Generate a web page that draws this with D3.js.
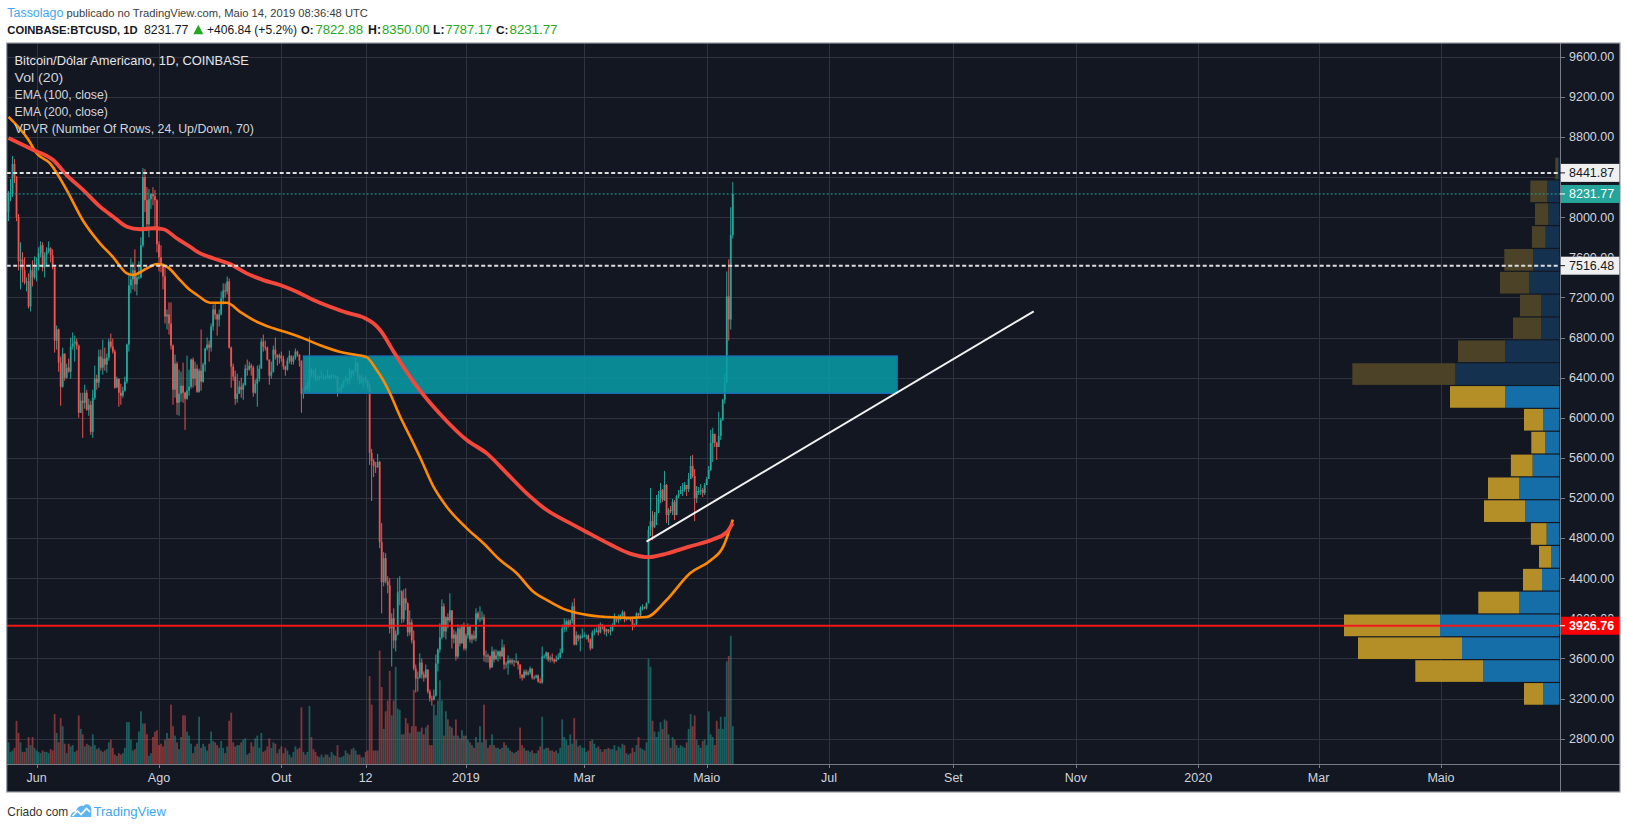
<!DOCTYPE html>
<html><head><meta charset="utf-8">
<script src="https://cdn.jsdelivr.net/npm/d3@7"></script>
<style>html,body{margin:0;padding:0;background:#fff;overflow:hidden}text{font-family:"Liberation Sans",Arial,sans-serif}</style>
</head><body><svg id="c" width="1627" height="829"></svg>
<script>
// ---------- DATA ----------
const startDate = "2018-05-18";          // first daily candle
const firstOpen = 8050;
const closes = [
8240,8240,8530,8400,8000,7560,7580,7470,7350,7360,7110,7470,7400,7500,
7520,7640,7720,7500,7620,7660,7690,7620,7500,6770,6880,6550,6310,6640,6400,6500,6460,6710,6740,6760,6720,6050,6170,6150,6250,6080,6130,5860,6200,6390,
6350,6610,6500,6590,6530,6600,6760,6710,6660,6300,6390,6250,6220,6270,6360,6730,7320,7380,7470,7330,7400,7400,7720,8400,8170,7930,8180,8230,8210,8170,7730,
7600,7530,7410,7010,7030,6940,6720,6280,6540,6150,6240,6320,6250,6190,6270,6310,6580,6390,6490,6260,6470,6360,6530,6690,6730,6700,6910,7080,7030,6980,7030,
7190,7270,7260,7360,6700,6510,6410,6190,6240,6310,6280,6330,6490,6480,6520,6500,6250,6340,6390,6490,6760,6710,6700,6580,6420,6460,6680,6630,6600,6620,
6590,6510,6480,6570,6620,6560,6600,6660,6630,6570,6240,6300,6290,6310,6480,6460,6440,6400,6390,6410,6410,6410,6400,6420,6400,6410,6420,6410,6270,6280,6320,
6370,6390,6370,6470,6440,6470,6550,6420,6350,6390,6390,6370,6320,5650,5570,5520,5510,5560,4760,4360,4600,4370,4330,3900,4000,3780,3840,4260,4270,3990,
4200,4150,3860,3960,3780,3500,3400,3410,3560,3440,3410,3490,3270,3200,3190,3230,3550,3690,3810,4120,3870,4010,3980,4080,3800,3840,3620,3900,3750,3930,3700,
3830,3920,3790,3830,3800,4050,4000,4000,4010,3630,3630,3620,3510,3670,3590,3630,3670,3620,3710,3540,3550,3580,3560,3580,3570,3570,3540,3440,3410,3470,3440,
3460,3500,3410,3410,3430,3370,3360,3620,3620,3660,3590,3610,3590,3570,3590,3610,3660,3900,3910,3970,3930,3980,4120,3740,3830,3800,3820,3820,
3830,3830,3790,3700,3860,3870,3880,3860,3940,3920,3870,3890,3870,3880,3920,4000,3980,3990,4030,4060,3990,3990,4000,3990,3920,3930,4050,4030,4100,4110,4100,
4150,4880,4970,4910,5030,5060,5200,5280,5180,5330,5030,5080,5070,5160,5030,5220,5240,5280,5280,5330,5290,5390,5520,5420,5200,5270,5270,5280,5250,5330,
5390,5480,5750,5840,5750,5710,5820,5980,6180,6350,7210,6980,7822.88,8231.77];
const highs = [
8260,8380,8610,8580,8410,8030,7750,7650,7600,7400,7440,7530,7570,7610,
7600,7700,7760,7750,7650,7700,7760,7700,7680,7510,6920,6890,6610,6700,6640,6540,6590,6800,6850,6820,6790,6730,6250,6250,6330,6280,6190,6170,6280,6520,
6430,6680,6680,6780,6700,6640,6790,6840,6790,6680,6410,6390,6340,6310,6410,6740,7440,7590,7550,7680,7440,7560,7800,8490,8480,8300,8280,8240,8300,8270,8180,
7760,7720,7540,7500,7080,7150,7150,6730,6630,6560,6480,6460,6550,6260,6620,6480,6590,6600,6560,6530,6490,6880,6550,6700,6800,6770,6940,7130,7140,7040,7080,
7260,7340,7340,7410,7390,6710,6540,6470,6440,6370,6400,6350,6530,6580,6560,6540,6520,6380,6520,6530,6790,6830,6770,6710,6580,6560,6720,6800,6630,6640,
6660,6620,6520,6600,6670,6620,6620,6690,6670,6630,6570,6320,6330,6360,6810,6500,6480,6500,6420,6420,6470,6430,6420,6480,6430,6430,6440,6420,6420,6300,6340,
6380,6420,6400,6500,6470,6480,6600,6550,6430,6430,6410,6420,6380,6340,5690,5590,5560,5640,5570,4950,4660,4650,4420,4400,4050,4100,3880,4400,4420,4280,
4290,4300,4160,4080,3990,3880,3540,3470,3650,3600,3470,3540,3490,3290,3230,3290,3640,3700,3950,4190,4150,4020,4050,4250,4080,3890,3870,3940,3930,3940,3960,
3850,3950,3920,3850,3880,4100,4070,4120,4070,4040,3680,3650,3630,3720,3690,3690,3680,3680,3790,3740,3570,3630,3600,3600,3580,3650,3580,3540,3440,3490,3490,
3480,3520,3500,3430,3440,3440,3400,3720,3640,3670,3660,3630,3650,3600,3630,3650,3700,3940,4000,3990,3990,3990,4160,4200,3870,3840,3840,3900,
3860,3840,3840,3800,3880,3900,3910,3940,3960,3940,3920,3900,3890,3920,3950,4050,4010,4040,4040,4080,4070,4010,4010,4000,4000,3950,4060,4050,4120,4140,4120,
4160,4920,5300,5070,5060,5230,5270,5350,5290,5470,5340,5100,5120,5190,5180,5230,5280,5320,5350,5360,5330,5450,5620,5630,5490,5320,5310,5340,5300,5350,
5410,5520,5880,5900,5840,5760,6060,6000,6190,6440,7460,7580,8100,8350];
const lows = [
7960,8160,8200,8340,7960,7470,7280,7350,7330,7260,7090,7060,7310,7380,
7360,7470,7600,7460,7400,7510,7640,7550,7480,6650,6680,6460,6120,6300,6370,6390,6450,6390,6680,6560,6680,6000,6050,5800,6090,6070,6020,5830,5800,6180,
6280,6300,6470,6430,6470,6450,6570,6690,6640,6290,6300,6110,6130,6200,6260,6340,6660,7240,7280,7260,7220,7380,7390,7700,8050,7860,7800,8080,8120,7870,7650,
7460,7450,7280,6940,6880,6830,6680,6130,6200,6030,6020,6160,6150,5880,6180,6220,6290,6300,6320,6250,6250,6270,6350,6460,6670,6560,6660,6870,6980,6820,6910,
7020,7130,7200,7230,6690,6300,6370,6130,6150,6240,6200,6180,6320,6420,6470,6420,6210,6240,6110,6360,6490,6660,6670,6570,6330,6390,6450,6580,6520,6540,
6560,6480,6420,6470,6540,6530,6530,6580,6610,6510,6050,6190,6270,6280,6260,6410,6400,6360,6370,6370,6400,6380,6380,6400,6380,6390,6400,6390,6210,6250,6240,
6300,6350,6330,6340,6390,6410,6460,6380,6330,6340,6300,6350,6290,5530,5170,5410,5450,5500,4700,4050,4320,4350,4250,3850,3520,3700,3670,3830,4130,3950,
3960,4080,3820,3830,3750,3480,3260,3270,3400,3400,3370,3400,3250,3170,3130,3180,3220,3470,3660,3790,3810,3790,3900,3960,3700,3750,3580,3600,3720,3750,3680,
3680,3800,3760,3750,3780,3770,3980,3960,3980,3570,3560,3560,3490,3510,3560,3590,3570,3590,3620,3490,3500,3440,3540,3540,3520,3560,3490,3400,3380,3400,3430,
3430,3440,3390,3390,3400,3360,3350,3350,3600,3590,3570,3560,3570,3550,3570,3590,3600,3650,3860,3870,3910,3920,3950,3730,3730,3770,3670,3800,
3810,3790,3760,3680,3700,3830,3860,3830,3850,3890,3840,3820,3850,3830,3870,3920,3960,3950,3980,4010,3960,3980,3990,3970,3880,3910,3930,4010,4020,4080,4090,
4090,4150,4820,4780,4900,4930,5050,5150,5160,5170,4950,4930,5050,5030,4980,5030,5200,5240,5220,5260,5220,5260,5390,5400,4970,5150,5230,5230,5210,5230,
5330,5390,5470,5560,5710,5580,5710,5780,5970,6140,6350,6770,6880,7787.17];
// daily volume, thousand BTC
const volumes = [
8,4.5,5,6,16,11.5,8,4.5,4.5,6,10,7,10,6,
5,4.5,4,5,4.5,4.5,4,5.5,5,18.5,11.5,8,17,14,7.5,4,7.5,6.5,7,4.5,5,18,13,11,6.5,7.5,7,6.5,11,7,
5.5,6,5,4.5,5,5.5,8,9,6,3.5,3,4,3.5,4,6,15.5,15.5,9,5,5.5,8,12,19.5,15,15,11,3,4,10,12,12.5,
7,7.5,6.5,9,11.5,9.5,22,14,10.5,8,5.5,10,18,18,12,10.5,7.5,4,6.5,7.5,17.5,6,7.5,6.5,5,7.5,12,8.5,8,7,6,
8.5,6,4,6.5,16,19,8,6.5,7,7,8,9,9.5,3.5,4,8,6.5,9.5,10.5,6,11.5,4.5,5,6.5,9.5,6,8,7.5,4,5.5,
6.5,4,6,5,3.5,2.5,4.5,6.5,5.5,6,21,4.5,3.5,4.5,21.5,10,5.5,4.5,3,2.5,3.5,2.5,3.5,3.5,2.5,4.5,3.5,3,7,2.5,2.5,
3,5,4,3.5,5.5,6,5,3.5,3.5,2.5,2.5,4.5,5,32.5,22,5,5,5,42,28.5,13,19.5,23.5,34.5,18,23.5,36,20.5,20,11,
11,17,15,11.5,14,27.5,14,12,12,13.5,11,13.5,14.5,7,7,22,18,23.5,31,23.5,10.5,19.5,16.5,14,13.5,10.5,16.5,10.5,9.5,12.5,10.5,
10.5,9,8,7,6,10,8,14,8,22,9,6,7,11,7,6,6,5.5,6,8,7,6,5,4.5,4,4.5,5,13.5,7,6,5,
5,4.5,5,4,4,5,6.5,17.5,5.5,6,6,5,5,4.5,5,4,6,16.5,10,9,7,11,7.5,17,9,6.5,7,6,
6,4.5,5,8.5,9,7.5,6,6.5,5.5,4.5,5.5,5.5,6,5.5,5.5,7,5,6.5,6,7.5,7,4,3.5,4,6,4.5,7,10,6,5.5,5,
8,39,36,16,12,10,12,15.5,13,16.5,16,11,6,10,9,7,6,7,6.5,6,8,13,18.5,14,18,9,7,6,8.5,9,
7,19.5,11,10,7,16,13,17.5,13,17.5,38,40,47.5,14];
// EMA lines: [candle index from startDate, value]
const ema100Pts = [[0,9000],[10,8770],[14,8637],[20.7,8537],[29,8270],[37,7970],[45.6,7740],[52,7605],[59,7440],[62,7424],[69,7490],[74,7533],[79,7506],[85.5,7373],[90.5,7273],[94,7224],[100.5,7147],[108.8,7147],[115.4,7057],[123.7,6958],[132,6892],[140,6842],[147,6792],[155,6726],[165,6659],[173.6,6626],[178.6,6603],[183.5,6476],[185.2,6426],[190,6250],[195,6020],[201,5778],[205,5612],[211.8,5313],[218.4,5113],[228.4,4898],[236.7,4749],[245,4582],[253.3,4450],[261.6,4266],[268.3,4183],[276.6,4095],[286.5,4041],[298,4013],[309.8,4005],[318,4013],[328,4183],[339.7,4450],[349.7,4575],[356.3,4718],[361,4985]];
const ema200Pts = [[0,8790],[12.4,8670],[22.3,8570],[29,8420],[37.3,8270],[45.6,8105],[52.2,8005],[59,7905],[65.5,7880],[72.2,7890],[77.2,7880],[83.8,7790],[90.5,7705],[94,7656],[102,7590],[110.4,7533],[118.7,7440],[127,7373],[135.3,7324],[143.7,7257],[152,7174],[160.3,7107],[168.6,7048],[176.9,7001],[181.9,6942],[185.2,6875],[192.3,6648],[202.6,6338],[218,5976],[228.4,5778],[238.4,5645],[248.4,5446],[258.3,5247],[268.3,5080],[279.9,4949],[289.9,4842],[300,4736],[309.8,4646],[319,4611],[328,4646],[339.7,4718],[351.3,4789],[358,4860],[361,4950]];
// Volume profile (VPVR), 24 rows, bottom -> top
const vpLow = 3133, vpHigh = 8600, vpValueAreaRows = 14;
const vpDown = [19,67.7,104,96,40.7,19,12,15.7,41,31.3,21.7,13.7,19,55,102.7,47,28,21,29,28.7,13.7,13.3,16.7,2.7];
const vpUp   = [16.3,76.3,97.3,119.3,40.3,17.3,8.3,12.7,34.3,40,26.7,14.3,16.3,54.3,104.3,54.3,18.3,18.3,30.3,26.3,13.7,11,12.3,1.3];
// drawings
const zoneStart = "2018-10-12", zoneEnd = "2019-08-04", zoneTop = 6616, zoneBottom = 6244;
const trendPts = [["2019-04-01",4766],["2019-10-11",7062]];
const dashedLevels = [8441.87, 7516.48];
const lastPrice = 8231.77;
const supportLevel = 3926.76;
// axes
const priceTicks = [2800,3200,3600,4000,4400,4800,5200,5600,6000,6400,6800,7200,7600,8000,8400,8800,9200,9600];
const timeTickDates = ["2018-06-01","2018-08-01","2018-10-01","2018-11-12","2019-01-01","2019-03-01","2019-05-01","2019-07-01","2019-09-01","2019-11-01","2020-01-01","2020-03-01","2020-05-01"];
const timeTickLabels = ["Jun","Ago","Out","12","2019","Mar","Maio","Jul","Set","Nov","2020","Mar","Maio"];
const legendLines = ["Bitcoin/Dólar Americano, 1D, COINBASE","Vol (20)","EMA (100, close)","EMA (200, close)","VPVR (Number Of Rows, 24, Up/Down, 70)"];
// header line 2 segments: text, style
const headerSegments = [["COINBASE:BTCUSD, 1D","b"],["8231.77","n"],["▲","g"],["+406.84 (+5.2%)","n"],["O:","b"],["7822.88","g"],["H:","b"],["8350.00","g"],["L:","b"],["7787.17","g"],["C:","b"],["8231.77","g"]];

// ---------- CHART ----------
const W = 1627, H = 829;
const P = {l: 6.7, t: 43, r: 1560, b: 764};
const F = {l: 6.7, t: 43, r: 1620, b: 792};
const BG = "#131722", GRID = "#2f333e", AX = "#787b86", TXT = "#d1d4dc";
const UP = "#26a69a", DN = "#ef5350";
const DAY = 864e5;
const parse = s => { const [y,m,d] = s.split("-").map(Number); return new Date(Date.UTC(y, m-1, d)); };
const t0 = parse(startDate);
const idxDate = i => new Date(t0.getTime() + i*DAY);

const x = d3.scaleUtc().domain([t0, parse("2020-05-01")]).range([8.5, 1441]);
const y = d3.scaleLinear().domain([2548, 9737]).range([P.b, P.t]);
const yVol = d3.scaleLinear().domain([0, 50]).range([P.b, P.b - 135]);

const candles = closes.map((c, i) => ({
  date: idxDate(i), o: i === 0 ? firstOpen : closes[i-1], c, h: highs[i], l: lows[i], v: volumes[i]
}));

const svg = d3.select("#c");
svg.append("rect").attr("width", W).attr("height", H).attr("fill", "#fff");
svg.append("rect").attr("x", F.l).attr("y", F.t).attr("width", F.r - F.l).attr("height", F.b - F.t).attr("fill", BG);

const defs = svg.append("defs");
defs.append("clipPath").attr("id", "pc").append("rect")
  .attr("x", P.l).attr("y", P.t).attr("width", P.r - P.l).attr("height", P.b - P.t);
const g = svg.append("g").attr("clip-path", "url(#pc)");

// grid
g.append("g").selectAll("line").data(priceTicks).join("line")
  .attr("x1", P.l).attr("x2", P.r).attr("y1", d => Math.round(y(d)) + 0.5).attr("y2", d => Math.round(y(d)) + 0.5)
  .attr("stroke", GRID).attr("stroke-width", 1);
g.append("g").selectAll("line").data(timeTickDates).join("line")
  .attr("x1", d => Math.round(x(parse(d))) + 0.5).attr("x2", d => Math.round(x(parse(d))) + 0.5)
  .attr("y1", P.t).attr("y2", P.b).attr("stroke", GRID).attr("stroke-width", 1);

// volume
g.append("g").selectAll("rect").data(candles).join("rect")
  .attr("x", d => x(d.date) - 0.9).attr("width", 1.8)
  .attr("y", d => yVol(d.v)).attr("height", d => P.b - yVol(d.v))
  .attr("fill", d => d.c >= d.o ? UP : DN).attr("fill-opacity", 0.5);

// candles
const cg = g.append("g");
cg.selectAll("line").data(candles).join("line")
  .attr("x1", d => x(d.date)).attr("x2", d => x(d.date))
  .attr("y1", d => y(d.h)).attr("y2", d => y(d.l))
  .attr("stroke", d => d.c >= d.o ? UP : DN).attr("stroke-width", 1);
cg.selectAll("rect").data(candles).join("rect")
  .attr("x", d => x(d.date) - 0.9).attr("width", 1.8)
  .attr("y", d => y(Math.max(d.o, d.c)))
  .attr("height", d => Math.max(1, Math.abs(y(d.o) - y(d.c))))
  .attr("fill", d => d.c >= d.o ? UP : DN);

// zone rectangle
g.append("rect")
  .attr("x", x(parse(zoneStart))).attr("y", y(zoneTop))
  .attr("width", x(parse(zoneEnd)) - x(parse(zoneStart))).attr("height", y(zoneBottom) - y(zoneTop))
  .attr("fill", "rgb(8,158,168)").attr("fill-opacity", 0.85)
  .attr("stroke", "#1a6fb8").attr("stroke-width", 1.3);

// EMAs
const emaLine = d3.line().x(p => x(idxDate(p[0]))).y(p => y(p[1])).curve(d3.curveMonotoneX);
g.append("path").attr("d", emaLine(ema100Pts)).attr("fill", "none").attr("stroke", "#ff8a00").attr("stroke-width", 2.6);
g.append("path").attr("d", emaLine(ema200Pts)).attr("fill", "none").attr("stroke", "#f4483c").attr("stroke-width", 3.8);

// trend line
g.append("line")
  .attr("x1", x(parse(trendPts[0][0]))).attr("y1", y(trendPts[0][1]))
  .attr("x2", x(parse(trendPts[1][0]))).attr("y2", y(trendPts[1][1]))
  .attr("stroke", "#f2f2f2").attr("stroke-width", 2);

// volume profile
const vpStep = (vpHigh - vpLow) / vpDown.length;
const vpW = d3.scaleLinear().domain([0, d3.max(vpUp.map((u, k) => u + vpDown[k]))]).range([0, 215.3]);
const vpRight = 1559.3;
const vg = g.append("g");
vpUp.forEach((u, k) => {
  const inVA = k < vpValueAreaRows;
  const yt = y(vpLow + (k + 1) * vpStep) + 0.6, yb = y(vpLow + k * vpStep) - 0.6;
  const wu = vpW(u), wd = vpW(vpDown[k]);
  vg.append("rect").attr("x", vpRight - wu).attr("y", yt).attr("width", wu).attr("height", yb - yt)
    .attr("fill", inVA ? "#166ea9" : "#143250");
  vg.append("rect").attr("x", vpRight - wu - wd).attr("y", yt).attr("width", wd).attr("height", yb - yt)
    .attr("fill", inVA ? "#b48f27" : "#4b4227");
});

// horizontal levels
dashedLevels.forEach(v => {
  g.append("line").attr("x1", P.l).attr("x2", P.r).attr("y1", y(v)).attr("y2", y(v))
    .attr("stroke", "#dedede").attr("stroke-width", 2).attr("stroke-dasharray", "4,2.5");
});
g.append("line").attr("x1", P.l).attr("x2", P.r).attr("y1", y(lastPrice)).attr("y2", y(lastPrice))
  .attr("stroke", UP).attr("stroke-width", 1).attr("stroke-dasharray", "2,2");
g.append("line").attr("x1", P.l).attr("x2", P.r).attr("y1", y(supportLevel)).attr("y2", y(supportLevel))
  .attr("stroke", "#f01818").attr("stroke-width", 2);

// text fitting helper: shrink the font when the text is too wide, stretch slightly when too narrow
function fit(sel, w) {
  const n = sel.node(); const cur = n.getComputedTextLength();
  const fs = +sel.attr("font-size");
  if (cur > w + 0.5) sel.attr("font-size", (fs * w / cur).toFixed(2));
  else if (w - cur > 1) sel.attr("textLength", w).attr("lengthAdjust", "spacingAndGlyphs");
}

// legend
const legendW = [234.5, 48.8, 93.5, 93.5, 239.5];
legendLines.forEach((s, i) => {
  const t = svg.append("text").attr("x", 14.5).attr("y", 64.8 + i * 17)
    .attr("font-size", 13).attr("fill", i === 0 ? "#e3e5ea" : TXT).text(s);
  fit(t, legendW[i]);
});

// axes frame lines
svg.append("line").attr("x1", P.r + 0.5).attr("x2", P.r + 0.5).attr("y1", F.t).attr("y2", F.b).attr("stroke", AX).attr("stroke-width", 1);
svg.append("line").attr("x1", F.l).attr("x2", F.r).attr("y1", P.b + 0.5).attr("y2", P.b + 0.5).attr("stroke", AX).attr("stroke-width", 1);

// price axis
const fmt = d3.format(".2f");
const pa = svg.append("g");
const boxPrices = [dashedLevels[0], lastPrice, dashedLevels[1], supportLevel];
priceTicks.forEach((v, i) => {
  const yy = y(v);
  const cover = boxPrices.find(b => Math.abs(y(b) - yy) < 9.5);
  if (cover !== undefined && Math.abs(y(cover) - yy) < 5) return;   // fully hidden under a price box
  pa.append("line").attr("x1", P.r).attr("x2", P.r + 5).attr("y1", Math.round(yy) + 0.5).attr("y2", Math.round(yy) + 0.5).attr("stroke", AX);
  const t = pa.append("text").attr("x", 1569).attr("y", yy + 4.3).attr("font-size", 12.5).attr("fill", TXT).text(fmt(v));
  if (cover !== undefined) {
    const id = "lc" + i;
    const top = y(cover) < yy ? y(cover) + 9 : yy - 10;
    const bot = y(cover) < yy ? yy + 10 : y(cover) - 9;
    defs.append("clipPath").attr("id", id).append("rect").attr("x", P.r).attr("y", top).attr("width", 70).attr("height", bot - top);
    t.attr("clip-path", `url(#${id})`);
  }
});
function priceBox(v, bg, fg, bold) {
  pa.append("rect").attr("x", P.r + 1).attr("y", y(v) - 9).attr("width", F.r - P.r - 1.5).attr("height", 18).attr("fill", bg);
  pa.append("line").attr("x1", P.r).attr("x2", P.r + 5).attr("y1", y(v)).attr("y2", y(v)).attr("stroke", fg).attr("stroke-width", 1);
  pa.append("text").attr("x", 1569).attr("y", y(v) + 4.5).attr("font-size", 12.5).attr("fill", fg)
    .attr("font-weight", bold ? "bold" : "normal").text(fmt(v));
}
priceBox(dashedLevels[0], "#f0f0f0", "#131722", false);
priceBox(lastPrice, UP, "#ffffff", false);
priceBox(dashedLevels[1], "#f0f0f0", "#131722", false);
priceBox(supportLevel, "#ff0000", "#ffffff", true);

// time axis
timeTickDates.forEach((d, i) => {
  const xx = x(parse(d));
  svg.append("line").attr("x1", Math.round(xx) + 0.5).attr("x2", Math.round(xx) + 0.5).attr("y1", P.b).attr("y2", P.b + 4).attr("stroke", AX);
  svg.append("text").attr("x", xx).attr("y", 781.5).attr("text-anchor", "middle")
    .attr("font-size", 12.5).attr("fill", TXT).text(timeTickLabels[i]);
});

// outer frame
svg.append("rect").attr("x", F.l).attr("y", F.t).attr("width", F.r - F.l).attr("height", F.b - F.t)
  .attr("fill", "none").attr("stroke", "#9a9da6").attr("stroke-width", 1.2);

// header line 1
const h1a = svg.append("text").attr("x", 7.3).attr("y", 17.3).attr("font-size", 14).attr("fill", "#3ea6f2").text("Tassolago");
fit(h1a, 56);
const h1b = svg.append("text").attr("x", 66.5).attr("y", 17.3).attr("font-size", 14).attr("fill", "#3b3b3b")
  .text("publicado no TradingView.com, Maio 14, 2019 08:36:48 UTC");
fit(h1b, 301.5);
// header line 2: segments laid out left to right with their reference widths
const GREEN = "#23a823";
const segX = [7.3, 144, 193.3, 207, 301, 315.4, 368, 382, 433, 445.5, 496, 509.5];
const segW = [130.4, 44.5, 10, 90, 12.5, 47.6, 13, 47.6, 11.5, 46.5, 12.5, 48];
headerSegments.forEach((s, i) => {
  if (s[0] === "▲") {
    svg.append("path").attr("d", d3.line()([[segX[i], 34.3], [segX[i] + segW[i], 34.3], [segX[i] + segW[i] / 2, 24.8]]) + "Z").attr("fill", GREEN);
    return;
  }
  const t = svg.append("text").attr("x", segX[i]).attr("y", 34.3).attr("font-size", 13.5)
    .attr("font-weight", s[1] === "b" ? "bold" : "normal")
    .attr("fill", s[1] === "g" ? GREEN : "#131722").text(s[0]);
  fit(t, segW[i]);
});

// footer
const f1 = svg.append("text").attr("x", 7.3).attr("y", 815.5).attr("font-size", 13.5).attr("fill", "#333").text("Criado com");
fit(f1, 61);
const logo = svg.append("g").attr("transform", "translate(70.5,803)");
logo.append("path").attr("d", "M0,14 C0,10.5 2.5,8.5 5.5,8.8 C6,4.5 9.5,2 13,3 C15,0 20.5,0.8 20.8,6 L20.8,14 Z").attr("fill", "#5db6ef");
logo.append("path").attr("d", "M2,13 L7,8 L10.5,11.5 L16,5.5 L19.5,9").attr("fill", "none").attr("stroke", "#fff").attr("stroke-width", 1.6);
const f2 = svg.append("text").attr("x", 93.4).attr("y", 815.5).attr("font-size", 13.5).attr("fill", "#3ea6f2").text("TradingView");
fit(f2, 72.6);
</script></body></html>
